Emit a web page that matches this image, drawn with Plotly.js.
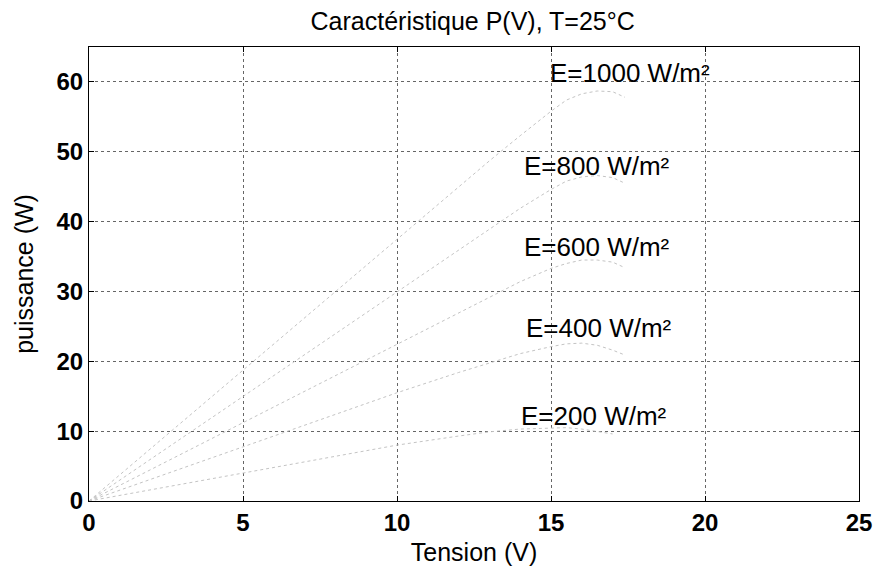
<!DOCTYPE html>
<html>
<head>
<meta charset="utf-8">
<script src="https://cdn.plot.ly/plotly-3.0.1.min.js"></script>
<style>html,body{margin:0;padding:0;background:#fff;}#chart{width:877px;height:569px;}</style>
</head>
<body>
<div id="chart"></div>
<script>
// Voltage (V)
const tension = [0, 2, 4, 6, 8, 10, 12, 13, 14, 15, 15.5, 16, 16.5, 17, 17.4];
// Power (W) per irradiance
const p1000 = [0, 7.5, 15, 22.5, 30, 37.5, 45, 48.7, 52.3, 55.8, 57.4, 58.3, 58.7, 58.6, 57.8];
const p800  = [0, 6.0, 12, 18.0, 24, 30.0, 36, 39.0, 41.9, 44.6, 45.8, 46.4, 46.6, 46.3, 45.5];
const p600  = [0, 4.5, 9.0, 13.5, 18, 22.5, 27, 29.2, 31.4, 33.3, 34.0, 34.5, 34.5, 34.2, 33.4];
const p400  = [0, 3.1, 6.2, 9.3, 12.4, 15.5, 18.4, 19.8, 21.1, 22.1, 22.5, 22.6, 22.3, 21.6, 20.9];
const p200  = [0, 1.6, 3.2, 4.8, 6.4, 8.0, 9.3, 9.9, 10.3, 10.5, 10.5, 10.3, 10.0, 9.6];
const labels = ["E=1000 W/m²", "E=800 W/m²", "E=600 W/m²", "E=400 W/m²", "E=200 W/m²"];
const labelX = [17.55, 16.5, 16.5, 16.55, 16.4];
const labelY = [61.3, 47.9, 36.3, 24.8, 12.1];
const xTicks = [0, 5, 10, 15, 20, 25];
const yTicks = [0, 10, 20, 30, 40, 50, 60];

const series = [p1000, p800, p600, p400, p200];
const traces = series.map(s => ({
  x: tension.slice(0, s.length), y: s, type: 'scatter', mode: 'lines',
  line: {color: '#c4c4c4', width: 1, dash: 'dot'}, showlegend: false, hoverinfo: 'skip'
}));

const font = 'Liberation Sans, Arial, sans-serif';
const axisCommon = {
  showline: true, linecolor: '#000', linewidth: 1, mirror: 'ticks',
  ticks: 'inside', ticklen: 5, tickcolor: '#000',
  showgrid: true, gridcolor: '#666', griddash: 'dot', gridwidth: 1,
  zeroline: false, tickfont: {family: font, size: 24, color: '#000', weight: 'bold'}
};

const layout = {
  width: 877, height: 569,
  margin: {l: 89, r: 18, t: 47, b: 68},
  paper_bgcolor: '#fff', plot_bgcolor: '#fff',
  title: {text: 'Caractéristique P(V), T=25°C', font: {family: font, size: 25, color: '#000'}, x: 0.539, xanchor: 'center', y: 0.963, yanchor: 'middle'},
  xaxis: Object.assign({}, axisCommon, {range: [0, 25], tickvals: xTicks, ticktext: xTicks.map(String),
    title: {text: 'Tension (V)', font: {family: font, size: 25, color: '#000'}, standoff: 8}}),
  yaxis: Object.assign({}, axisCommon, {range: [0, 65], tickvals: yTicks, ticktext: yTicks.map(String),
    title: {text: 'puissance (W)', font: {family: font, size: 25, color: '#000'}, standoff: 15}}),
  annotations: labels.map((t, i) => ({
    x: labelX[i], y: labelY[i], xref: 'x', yref: 'y', text: t, showarrow: false,
    font: {family: font, size: 26, color: '#000'}, xanchor: 'center', yanchor: 'middle'
  }))
};

Plotly.newPlot('chart', traces, layout, {staticPlot: true, displayModeBar: false});
</script>
</body>
</html>
